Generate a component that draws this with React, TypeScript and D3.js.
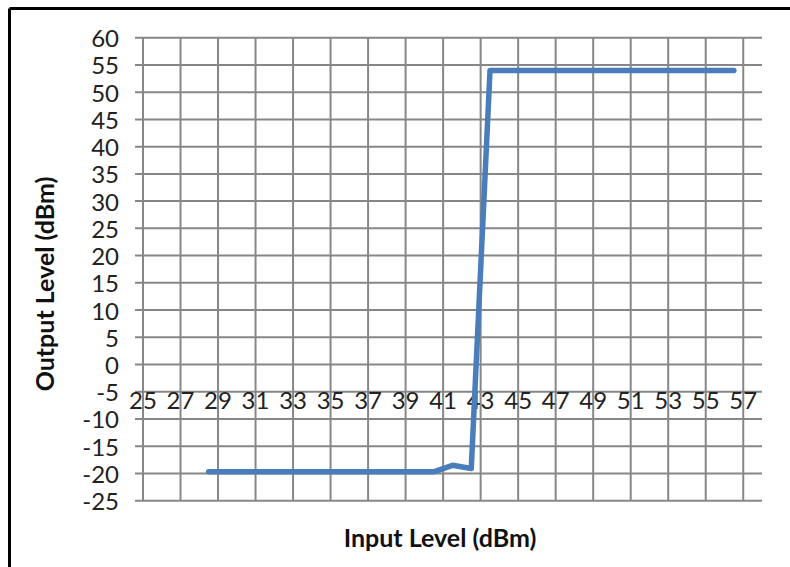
import * as d3 from "d3";

// measured input/output levels
const inputLevels = [
  28.5, 29.5, 30.5, 31.5, 32.5, 33.5, 34.5, 35.5, 36.5, 37.5, 38.5, 39.5, 40.5,
  41.5, 42.5, 43.5, 44.5, 45.5, 46.5, 47.5, 48.5, 49.5, 50.5, 51.5, 52.5, 53.5,
  54.5, 55.5, 56.5,
];
const outputLevels = [
  -19.7, -19.7, -19.7, -19.7, -19.7, -19.7, -19.7, -19.7, -19.7, -19.7, -19.7,
  -19.7, -19.7, -18.5, -19.1, 54, 54, 54, 54, 54, 54, 54, 54, 54, 54, 54, 54, 54,
  54,
];
const xTicks = [25, 27, 29, 31, 33, 35, 37, 39, 41, 43, 45, 47, 49, 51, 53, 55, 57];
const yTicks = [-25, -20, -15, -10, -5, 0, 5, 10, 15, 20, 25, 30, 35, 40, 45, 50, 55, 60];

const App: React.FC = () => {
  const width = 790;
  const height = 567;
  const plotLeft = 143;
  const plotRight = 762;
  const plotTop = 37.7;
  const plotBottom = 500.7;
  const font = "Lato, 'Open Sans', sans-serif";
  const gridColor = "#878787";

  const x = d3.scaleLinear([25, 58], [plotLeft, plotRight]);
  const y = d3.scaleLinear([-25, 60], [plotBottom, plotTop]);
  const line = d3.line<number>((d) => x(d), (_, i) => y(outputLevels[i]));

  return (
    <svg
      width={width}
      height={height}
      style={{ position: "absolute", left: 0, top: 0, background: "#fff" }}
    >
      {/* chart frame */}
      <line x1={9.5} y1={8.5} x2={width} y2={8.5} stroke="#000" strokeWidth={3} />
      <line x1={9.5} y1={8.5} x2={9.5} y2={height} stroke="#000" strokeWidth={3} />

      <g stroke={gridColor} strokeWidth={2}>
        {yTicks.map((t) => (
          <line key={"h" + t} x1={plotLeft - 8} x2={plotRight} y1={y(t)} y2={y(t)} />
        ))}
        {xTicks.map((t) => (
          <line key={"v" + t} x1={x(t)} x2={x(t)} y1={plotTop} y2={plotBottom} />
        ))}
      </g>

      <g fontFamily={font} fontSize={24} fill="#222">
        {yTicks.map((t) => (
          <text key={"yl" + t} x={119} y={y(t)} textAnchor="end" dominantBaseline="central">
            {t}
          </text>
        ))}
        {xTicks.map((t) => (
          <text key={"xl" + t} x={x(t)} y={y(-5) + 8} textAnchor="middle" dominantBaseline="central">
            {t}
          </text>
        ))}
      </g>

      <path
        d={line(inputLevels) ?? undefined}
        fill="none"
        stroke="#4a7ebb"
        strokeWidth={5.5}
        strokeLinecap="round"
        strokeLinejoin="round"
      />

      <text
        transform={`translate(44,284) rotate(-90)`}
        textAnchor="middle"
        dominantBaseline="central"
        fontFamily={font}
        fontWeight="bold"
        fontSize={25}
        fill="#111"
      >
        Output Level (dBm)
      </text>
      <text
        x={440}
        y={547}
        textAnchor="middle"
        fontFamily={font}
        fontWeight="bold"
        fontSize={25}
        fill="#111"
      >
        Input Level (dBm)
      </text>
    </svg>
  );
};

export default App;
